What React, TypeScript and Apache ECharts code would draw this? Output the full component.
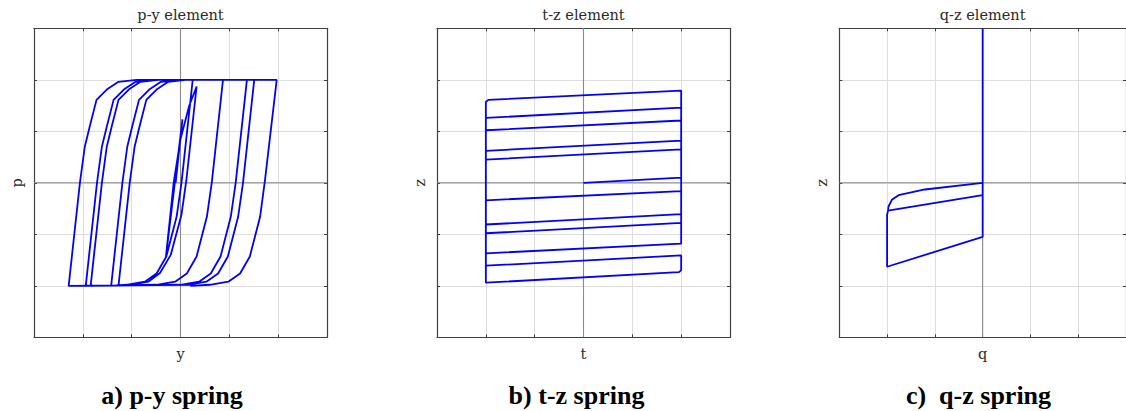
import { useEffect, useRef } from "react";
import * as echarts from "echarts";

// Panel texts
const PANEL_TITLES = ["p-y element", "t-z element", "q-z element"];
const X_NAMES = ["y", "t", "q"];
const Y_NAMES = ["p", "z", "z"];
const CAPTIONS = ["a) p-y spring", "b) t-z spring", "c)  q-z spring"];

// Normalised axis range shared by all three panels
const AXIS_MIN = -3;
const AXIS_MAX = 3;
const AXIS_STEP = 1;

// p-y spring: cyclic response with growing displacement amplitude
const PY_CURVE: number[][] = [
  [-0.1, 0], [0.04, 1.23], [-0.3, -1.45], [-0.14, 0], [0.0, 0.85], [0.18, 1.5], [0.33, 1.87],
  [0.12, 0.05], [0.02, -0.62], [-0.2, -1.4], [-0.42, -1.75], [-0.66, -1.92], [-1.02, -1.98],
  [-1.27, -2],
  [-1.04, 0], [-0.94, 0.7], [-0.84, 1.09], [-0.7, 1.61], [-0.49, 1.81], [-0.25, 1.96], [0.1, 2],
  [0.25, 2],
  [0.02, 0], [-0.08, -0.66], [-0.29, -1.43], [-0.49, -1.76], [-0.73, -1.92], [-1.11, -1.98],
  [-1.42, -2],
  [-1.19, 0], [-1.09, 0.7], [-0.99, 1.09], [-0.85, 1.61], [-0.64, 1.81], [-0.4, 1.96], [-0.03, 2],
  [0.87, 2],
  [0.64, 0], [0.54, -0.66], [0.33, -1.43], [0.13, -1.76], [-0.11, -1.92], [-0.49, -1.98],
  [-1.84, -2],
  [-1.61, 0], [-1.51, 0.7], [-1.41, 1.09], [-1.27, 1.61], [-1.06, 1.81], [-0.82, 1.96], [-0.45, 2],
  [1.36, 2],
  [1.13, 0], [1.03, -0.66], [0.82, -1.43], [0.62, -1.76], [0.38, -1.92], [0.0, -1.98],
  [-1.94, -2],
  [-1.71, 0], [-1.61, 0.7], [-1.51, 1.09], [-1.37, 1.61], [-1.16, 1.81], [-0.92, 1.96], [-0.55, 2],
  [1.51, 2],
  [1.28, 0], [1.18, -0.66], [0.97, -1.43], [0.77, -1.76], [0.53, -1.92], [0.15, -1.98],
  [-2.29, -2],
  [-2.06, 0], [-1.96, 0.7], [-1.86, 1.09], [-1.72, 1.61], [-1.51, 1.81], [-1.27, 1.96], [-0.9, 2],
  [1.97, 2],
  [1.73, 0.05], [1.63, -0.66], [1.42, -1.43], [1.22, -1.76], [0.98, -1.92], [0.6, -1.98], [0.2, -2],
];

// t-z spring: rigid-plastic reversals between the two friction limits
const TZ_CURVE: number[][] = [
  [0, 0], [2, 0.1], [2, 0.65], [-2, 0.45], [-2, -0.34], [2, -0.16], [2, 0.82],
  [-2, 0.62], [-2, -0.81], [2, -0.61], [2, 1.21], [-2, 1.02], [-2, -0.98],
  [2, -0.78], [2, 1.46], [-2, 1.26], [-2, -1.37], [2, -1.18], [2, 1.79],
  [-1.95, 1.61], [-2, 1.57], [-2, -1.94], [1.95, -1.735], [2, -1.7], [2, -1.41], [-2, -1.61],
];

// q-z spring: end bearing with no tension capacity
const QZ_CURVE: number[][] = [
  [0, 0], [-1.21, -0.13], [-1.76, -0.24], [-1.9, -0.33], [-1.97, -0.46], [-1.98, -0.54],
  [0, -0.24], [-1.98, -0.54], [-2, -0.62], [-2, -1.63], [0, -1.05], [0, 3],
];

const CURVES = [PY_CURVE, TZ_CURVE, QZ_CURVE];

// Zero reference lines through the origin of every panel
const ZERO_VERTICAL: number[][] = [[0, AXIS_MIN], [0, AXIS_MAX]];
const ZERO_HORIZONTAL: number[][] = [[AXIS_MIN, 0], [AXIS_MAX, 0]];

// Layout (pixels)
const GRID_LEFT = [34, 437, 839.3];
const GRID_TOP = 28.3;
const GRID_W = 293;
const GRID_H = 309;
const CAPTION_X = [172, 576.5, 978.5];
const CAPTION_Y = 395;

const FRAME = "#404040";
const GRID_LINE = "#dedede";
const ZERO_LINE = "#8a8a8a";
const CURVE_BLUE = "#0000ff";
const LABEL_FONT = "DejaVu Serif";

function axisBase(gridIndex: number, position: string) {
  return {
    type: "value",
    gridIndex,
    position,
    min: AXIS_MIN,
    max: AXIS_MAX,
    interval: AXIS_STEP,
    axisLine: { show: true, onZero: false, lineStyle: { color: FRAME, width: 1.2 } },
    axisTick: { show: true, inside: true, length: 3, lineStyle: { color: FRAME, width: 1 } },
    axisLabel: { show: false },
    splitLine: { show: false },
  };
}

const nameStyle = { fontFamily: LABEL_FONT, fontSize: 14.5, color: "#2b2b2b" };

function buildOption() {
  const grid: any[] = [];
  const xAxis: any[] = [];
  const yAxis: any[] = [];
  const series: any[] = [];

  for (let i = 0; i < 3; i++) {
    grid.push({ left: GRID_LEFT[i], top: GRID_TOP, width: GRID_W, height: GRID_H });

    xAxis.push({
      ...axisBase(i, "bottom"),
      splitLine: { show: true, lineStyle: { color: GRID_LINE, width: 1 } },
      name: X_NAMES[i],
      nameLocation: "middle",
      nameGap: 9,
      nameTextStyle: nameStyle,
    });
    xAxis.push({
      ...axisBase(i, "top"),
      name: PANEL_TITLES[i],
      nameLocation: "middle",
      nameGap: 6,
      nameTextStyle: nameStyle,
    });
    yAxis.push({
      ...axisBase(i, "left"),
      splitLine: { show: true, lineStyle: { color: GRID_LINE, width: 1 } },
      name: Y_NAMES[i],
      nameLocation: "middle",
      nameRotate: 90,
      nameGap: 10,
      nameTextStyle: nameStyle,
    });
    yAxis.push({ ...axisBase(i, "right") });

    for (const zero of [ZERO_VERTICAL, ZERO_HORIZONTAL]) {
      series.push({
        type: "line",
        xAxisIndex: 2 * i,
        yAxisIndex: 2 * i,
        data: zero,
        showSymbol: false,
        symbol: "none",
        silent: true,
        z: 1,
        lineStyle: { color: ZERO_LINE, width: 1.1 },
      });
    }

    series.push({
      type: "line",
      xAxisIndex: 2 * i,
      yAxisIndex: 2 * i,
      data: CURVES[i],
      showSymbol: false,
      symbol: "none",
      z: 3,
      clip: true,
      lineStyle: { color: CURVE_BLUE, width: 1.8 },
    });
  }

  const graphic = CAPTIONS.map((text, i) => ({
    type: "text",
    x: CAPTION_X[i],
    y: CAPTION_Y,
    style: {
      text,
      textAlign: "center",
      textVerticalAlign: "middle",
      fontFamily: "Liberation Serif",
      fontWeight: "bold",
      fontSize: 26,
      fill: "#000",
    },
  }));

  return { animation: false, grid, xAxis, yAxis, series, graphic };
}

export default function App() {
  const ref = useRef<HTMLDivElement>(null);

  useEffect(() => {
    if (!ref.current) return;
    const chart = echarts.init(ref.current, undefined, { renderer: "svg" });
    chart.setOption(buildOption() as any);
    return () => chart.dispose();
  }, []);

  return (
    <div
      ref={ref}
      style={{ position: "absolute", left: 0, top: 0, width: 1126, height: 411, background: "#fff" }}
    />
  );
}
